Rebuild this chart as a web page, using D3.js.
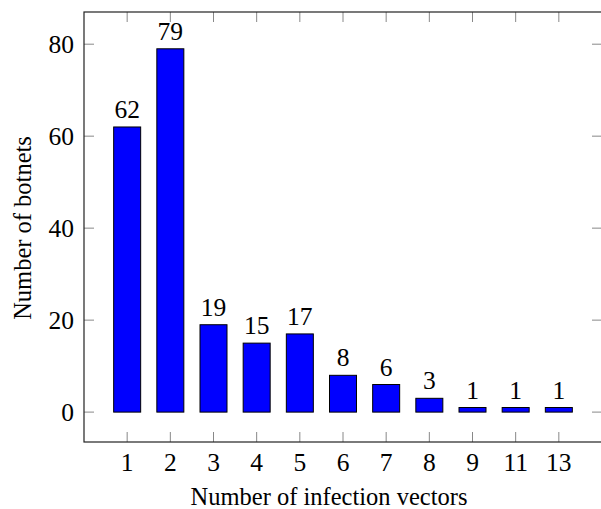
<!DOCTYPE html>
<html>
<head>
<meta charset="utf-8">
<script src="https://cdn.jsdelivr.net/npm/d3@7"></script>
<style>
  body { margin: 0; background: #fff; }
  svg text { font-family: "Liberation Serif", "DejaVu Serif", serif; fill: #000; }
</style>
</head>
<body>
<svg id="chart" width="601" height="509"></svg>
<script>
var categories = ["1", "2", "3", "4", "5", "6", "7", "8", "9", "11", "13"];
var botnets = [62, 79, 19, 15, 17, 8, 6, 3, 1, 1, 1];
var yTicks = [0, 20, 40, 60, 80];

var plotLeft = 84, plotRight = 602, plotTop = 12, plotBottom = 442;

var x = d3.scaleLinear()
    .domain([-1, categories.length])
    .range([plotLeft, plotRight]);

var y = d3.scaleLinear()
    .domain([-6.5, 87])
    .range([plotBottom, plotTop]);

var svg = d3.select("#chart");
var barWidth = 27;
var fs = 24.5;   // labels
var nfs = 25.5;  // numbers

// ticks (inside, grey)
var tickColor = "#888";
var tl = 10;
var g = svg.append("g");
categories.forEach(function (c, i) {
    g.append("line").attr("x1", x(i)).attr("x2", x(i)).attr("y1", plotBottom).attr("y2", plotBottom - tl)
        .attr("stroke", tickColor).attr("stroke-width", 1);
    g.append("line").attr("x1", x(i)).attr("x2", x(i)).attr("y1", plotTop).attr("y2", plotTop + tl)
        .attr("stroke", tickColor).attr("stroke-width", 1);
    g.append("text").attr("x", x(i)).attr("y", plotBottom + 29)
        .attr("text-anchor", "middle").attr("font-size", nfs).text(c);
});
yTicks.forEach(function (t) {
    g.append("line").attr("x1", plotLeft).attr("x2", plotLeft + tl).attr("y1", y(t)).attr("y2", y(t))
        .attr("stroke", tickColor).attr("stroke-width", 1);
    g.append("line").attr("x1", plotRight - tl).attr("x2", plotRight).attr("y1", y(t)).attr("y2", y(t))
        .attr("stroke", tickColor).attr("stroke-width", 1);
    g.append("text").attr("x", plotLeft - 10).attr("y", y(t) + 8.5)
        .attr("text-anchor", "end").attr("font-size", nfs).text(t);
});

// bars
svg.selectAll(".bar")
    .data(botnets)
    .enter().append("rect")
    .attr("class", "bar")
    .attr("x", function (d, i) { return x(i) - barWidth / 2; })
    .attr("width", barWidth)
    .attr("y", function (d) { return y(d); })
    .attr("height", function (d) { return y(0) - y(d); })
    .attr("fill", "#0000ff")
    .attr("stroke", "#000")
    .attr("stroke-width", 1);

svg.selectAll(".val")
    .data(botnets)
    .enter().append("text")
    .attr("class", "val")
    .attr("x", function (d, i) { return x(i); })
    .attr("y", function (d) { return y(d) - 9; })
    .attr("text-anchor", "middle")
    .attr("font-size", nfs)
    .text(function (d) { return d; });

// frame
svg.append("rect")
    .attr("x", plotLeft).attr("y", plotTop)
    .attr("width", plotRight - plotLeft).attr("height", plotBottom - plotTop)
    .attr("fill", "none").attr("stroke", "#222").attr("stroke-width", 1.2);

// axis labels
svg.append("text")
    .attr("x", 329).attr("y", 505)
    .attr("text-anchor", "middle").attr("font-size", fs)
    .text("Number of infection vectors");

svg.append("text")
    .attr("transform", "translate(31," + 228 + ") rotate(-90)")
    .attr("text-anchor", "middle").attr("font-size", fs)
    .text("Number of botnets");
</script>
</body>
</html>
